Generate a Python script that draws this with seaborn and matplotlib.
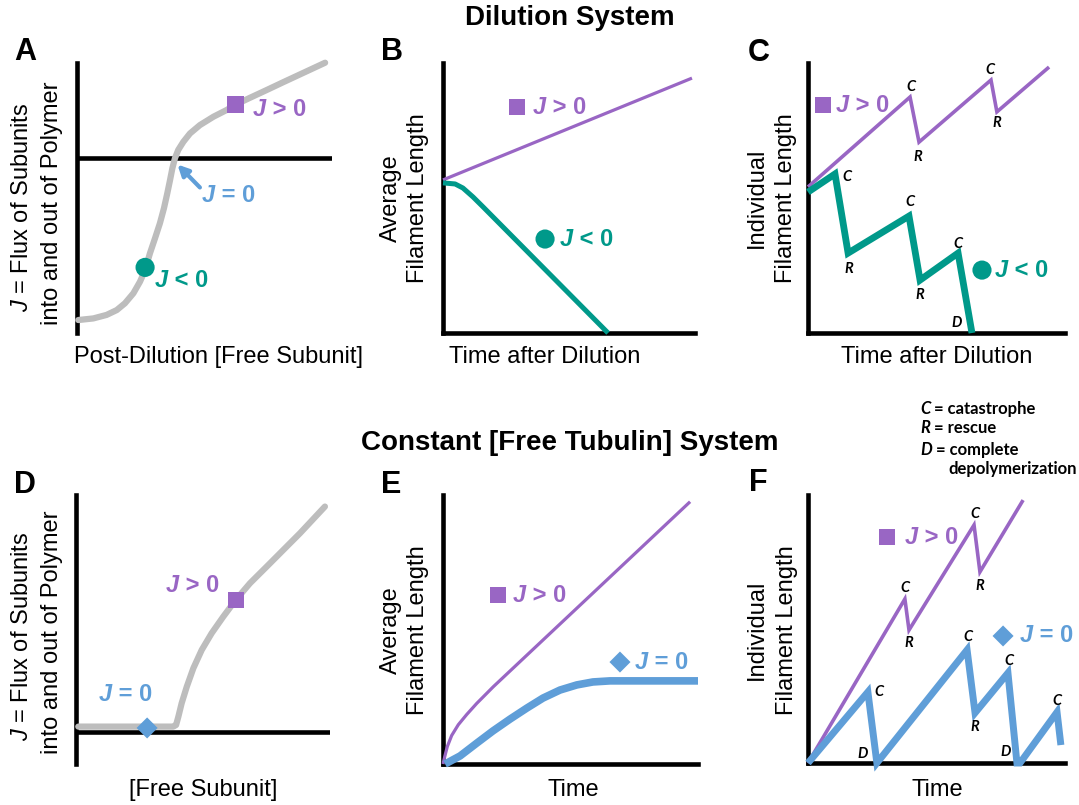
import matplotlib
matplotlib.use("Agg")
import matplotlib.pyplot as plt
from matplotlib.text import Annotation
import seaborn as sns

# ---------------------------------------------------------------
# Schematic curves (arbitrary units: x 0-100 along each time /
# concentration axis, y 0-100 along each length / flux axis)
# ---------------------------------------------------------------

# A: flux J vs post-dilution free subunit (sigmoid through J = 0)
a_conc = [0.5, 6.4, 11.6, 15.6, 18.8, 22.1, 24.7, 26.7, 28.6, 30.6, 32.5,
          34.1, 35.4, 36.5, 37.4, 38.4, 39.7, 41.7, 44.3, 48.2, 53.5, 58.7,
          62.2, 67.8, 74.4, 80.9, 87.5, 97.3]
a_flux = [-60.0, -59.4, -58.1, -56.3, -53.8, -50.1, -45.8, -41.5, -35.3,
          -29.7, -24.2, -18.6, -13.1, -8.1, -3.8, -0.1, 3.0, 6.0, 9.1, 12.2,
          15.3, 17.8, 19.8, 22.3, 25.2, 28.1, 31.0, 35.3]
a_pos_pt = (62.2, 19.8)      # J > 0 state
a_neg_pt = (26.7, -40.5)     # J < 0 state

# B: average filament length after dilution
b_grow_t = [0, 98.8]
b_grow_len = [56.7, 94.4]
b_shrink_t = [0, 4.8, 7.9, 11.9, 15.9, 65.5]
b_shrink_len = [55.6, 55.2, 53.7, 50.4, 46.7, 0]

# C: individual filament length after dilution
c_grow_t = [0, 39.7, 43.2, 71.2, 73.5, 93.8]
c_grow_len = [54.1, 87.4, 70.7, 93.7, 81.9, 98.5]
c_shrink_t = [0, 10.5, 15.6, 39.3, 43.6, 58.4, 63.8]
c_shrink_len = [52.2, 58.9, 29.6, 43.3, 19.6, 29.6, 0]
c_grow_events = ["C", "R", "C", "R"]
c_grow_ev_t = [40.1, 42.8, 70.8, 73.5]
c_grow_ev_len = [91.1, 65.2, 97.4, 77.8]
c_shrink_events = ["C", "R", "C", "R", "C", "D"]
c_shrink_ev_t = [15.2, 16.0, 39.7, 43.6, 58.4, 58.0]
c_shrink_ev_len = [57.8, 23.7, 48.5, 14.1, 33.0, 3.7]

# D: flux J vs constant free subunit concentration
d_conc = [0.9, 38.3, 39.4, 40.3, 41.6, 43.6, 46.2, 49.5, 53.4, 58.0, 62.9,
          68.5, 75.1, 88.2, 98.0]
d_flux = [2.0, 2.0, 2.6, 5.7, 10.7, 16.8, 23.7, 30.5, 36.7, 42.9, 49.1,
          55.3, 61.5, 73.9, 83.8]
d_pos_pt = (62.9, 49.1)
d_zero_pt = (28.0, 1.5)

# E: average filament length at constant free tubulin
e_grow_t = [0, 0.8, 1.7, 3.4, 6.0, 9.3, 13.2, 19.7, 96.9]
e_grow_len = [0, 3.2, 6.5, 10.6, 14.6, 18.4, 22.5, 28.7, 97.5]
e_steady_t = [0.8, 6.7, 13.3, 19.6, 26.3, 32.9, 39.2, 45.9, 52.5, 58.8, 65.5, 100]
e_steady_len = [0, 3.0, 7.8, 12.3, 16.7, 20.8, 24.5, 27.5, 29.4, 30.5, 30.9, 30.9]

# F: individual filament length at constant free tubulin
f_grow_t = [0, 37.7, 39.3, 64.6, 66.9, 83.7]
f_grow_len = [0, 61.2, 49.6, 88.8, 71.3, 98.1]
f_steady_t = [0, 23.3, 26.8, 61.9, 65.0, 77.8, 81.3, 82.5, 96.9, 98.4]
f_steady_len = [0, 26.5, 0, 42.2, 18.7, 33.6, 0, 0, 19.0, 6.7]
f_grow_events = ["C", "R", "C", "R"]
f_grow_ev_t = [37.7, 39.3, 65.0, 66.9]
f_grow_ev_len = [65.3, 44.8, 92.9, 66.0]
f_steady_events = ["C", "D", "C", "R", "C", "D", "C"]
f_steady_ev_t = [27.6, 21.4, 62.3, 65.0, 78.2, 77.0, 96.9]
f_steady_ev_len = [26.5, 3.4, 47.0, 13.4, 38.1, 4.1, 23.1]

# Marker anchors for the J states in B, C, E, F
b_pos_pt, b_neg_pt = (29.4, 83.7), (40.5, 34.8)
c_pos_pt, c_neg_pt = (5.8, 84.4), (67.7, 23.3)
e_pos_pt, e_zero_pt = (21.6, 62.8), (69.4, 37.9)
f_pos_pt, f_zero_pt = (30.7, 84.3), (75.9, 47.4)

legend_keys = ["C", "R", "D"]
legend_terms = ["= catastrophe", "= rescue", "= complete"]
legend_extra = "depolymerization"

# ---------------------------------------------------------------
PURPLE = "#9966c4"
TEAL = "#00998a"
BLUE = "#5f9ed8"
GREY = "#bdbdbd"
AXLW = 3.3
LABEL_FS = 17

sns.set_theme(style="white")
plt.rcParams["font.family"] = ["Liberation Sans", "DejaVu Sans"]
plt.rcParams["text.color"] = "black"
plt.rcParams["mathtext.fontset"] = "custom"
plt.rcParams["mathtext.rm"] = "Liberation Sans"
plt.rcParams["mathtext.it"] = "Liberation Sans:italic"

W, H = 1079, 805
fig = plt.figure(figsize=(W / 100, H / 100), dpi=100)
fig.patch.set_facecolor("white")


def add_panel(box, ylim=(0, 100), bottom=True):
    l, t, r, b = box
    ax = fig.add_axes([l / W, 1 - b / H, (r - l) / W, (b - t) / H])
    ax.set_xlim(0, 100)
    ax.set_ylim(*ylim)
    ax.set_xticks([])
    ax.set_yticks([])
    ax.patch.set_alpha(0)
    for side in ("top", "right"):
        ax.spines[side].set_visible(False)
    ax.spines["left"].set_color("black")
    ax.spines["left"].set_linewidth(AXLW)
    if bottom:
        ax.spines["bottom"].set_color("black")
        ax.spines["bottom"].set_linewidth(AXLW)
    else:
        ax.spines["bottom"].set_visible(False)
    return ax


def curve(ax, x, y, color, lw, join="round", cap="butt"):
    sns.lineplot(x=x, y=y, ax=ax, color=color, linewidth=lw, sort=False,
                 estimator=None, clip_on=False, solid_capstyle=cap,
                 solid_joinstyle=join, zorder=3)
    ax.set_xlabel("")
    ax.set_ylabel("")


def marker(ax, pt, shape, color, size):
    sns.scatterplot(x=[pt[0]], y=[pt[1]], ax=ax, marker=shape, s=size,
                    color=color, edgecolor="none", linewidth=0,
                    clip_on=False, zorder=6)
    ax.set_xlabel("")
    ax.set_ylabel("")


def jlabel(ax, x, y, sign, color, fs=17):
    j = ax.text(x, y, "J", color=color, fontsize=fs, fontweight="bold",
                fontstyle="italic", ha="left", va="center", zorder=7)
    ax.annotate(" %s 0" % sign, xy=(1, 0), xycoords=j, color=color,
                fontsize=fs, fontweight="bold", ha="left", va="bottom",
                zorder=7)


def events(ax, names, xs, ys):
    for n, x, y in zip(names, xs, ys):
        ax.text(x, y, n, fontsize=10.5, fontweight="bold", fontstyle="italic",
                family="Lato", ha="center", va="center", zorder=7)


def ftext(px, py, s, **kw):
    return fig.text(px / W, 1 - py / H, s, **kw)


MS_SQ, MS_CI, MS_DI = 140, 190, 115

# ---------------- Dilution system ----------------
axA = add_panel((77, 63, 332, 333), ylim=(-64.8, 35.2), bottom=False)
axA.axhline(0, color="black", lw=AXLW, zorder=2)
curve(axA, a_conc, a_flux, GREY, 4.5, cap="round")
marker(axA, a_pos_pt, "s", PURPLE, MS_SQ)
marker(axA, a_neg_pt, "o", TEAL, MS_CI)
jlabel(axA, 69.0, 17.8, ">", PURPLE)
jlabel(axA, 30.6, -45.2, "<", TEAL)
jlabel(axA, 49.0, -13.7, "=", BLUE)
axA.annotate("", xy=(39.4, -2.4), xytext=(48.2, -10.9),
             arrowprops=dict(arrowstyle="-|>", color=BLUE, lw=3,
                             mutation_scale=16, shrinkA=0, shrinkB=0))

axB = add_panel((443, 63, 695, 333))
curve(axB, b_grow_t, b_grow_len, PURPLE, 2.3)
curve(axB, b_shrink_t, b_shrink_len, TEAL, 3.6)
marker(axB, b_pos_pt, "s", PURPLE, MS_SQ)
marker(axB, b_neg_pt, "o", TEAL, MS_CI)
jlabel(axB, b_pos_pt[0] + 6.3, b_pos_pt[1], ">", PURPLE)
jlabel(axB, b_neg_pt[0] + 5.9, b_neg_pt[1], "<", TEAL)

axC = add_panel((808, 63, 1065, 333))
curve(axC, c_grow_t, c_grow_len, PURPLE, 2.6, join="miter")
curve(axC, c_shrink_t, c_shrink_len, TEAL, 4.9, join="miter")
marker(axC, c_pos_pt, "s", PURPLE, MS_SQ)
marker(axC, c_neg_pt, "o", TEAL, MS_CI)
jlabel(axC, c_pos_pt[0] + 5.0, c_pos_pt[1], ">", PURPLE)
jlabel(axC, c_neg_pt[0] + 5.0, c_neg_pt[1], "<", TEAL)
events(axC, c_grow_events, c_grow_ev_t, c_grow_ev_len)
events(axC, c_shrink_events, c_shrink_ev_t, c_shrink_ev_len)

# ---------------- Constant free tubulin system ----------------
axD = add_panel((76, 495, 330, 764), ylim=(-11.9, 88.1), bottom=False)
axD.axhline(0, color="black", lw=AXLW, zorder=2)
curve(axD, d_conc, d_flux, GREY, 4.5, cap="round")
marker(axD, d_pos_pt, "s", PURPLE, MS_SQ)
marker(axD, d_zero_pt, "D", BLUE, MS_DI)
jlabel(axD, 35.5, 54.6, ">", PURPLE)
jlabel(axD, 9.0, 13.8, "=", BLUE)

axE = add_panel((443, 495, 698, 764))
curve(axE, e_grow_t, e_grow_len, PURPLE, 2.3)
curve(axE, e_steady_t, e_steady_len, BLUE, 5.5)
marker(axE, e_pos_pt, "s", PURPLE, MS_SQ)
marker(axE, e_zero_pt, "D", BLUE, MS_DI)
jlabel(axE, e_pos_pt[0] + 5.9, e_pos_pt[1], ">", PURPLE)
jlabel(axE, e_zero_pt[0] + 5.9, e_zero_pt[1], "=", BLUE)

axF = add_panel((808, 495, 1065, 763))
curve(axF, f_grow_t, f_grow_len, PURPLE, 2.6, join="miter")
curve(axF, f_steady_t, f_steady_len, BLUE, 5.0, join="miter")
marker(axF, f_pos_pt, "s", PURPLE, MS_SQ)
marker(axF, f_zero_pt, "D", BLUE, MS_DI)
jlabel(axF, f_pos_pt[0] + 7.0, f_pos_pt[1], ">", PURPLE)
jlabel(axF, f_zero_pt[0] + 6.6, f_zero_pt[1], "=", BLUE)
events(axF, f_grow_events, f_grow_ev_t, f_grow_ev_len)
events(axF, f_steady_events, f_steady_ev_t, f_steady_ev_len)

# ---------------- Titles, panel letters, axis labels ----------------
ftext(570, 18, "Dilution System", fontsize=20, fontweight="bold",
      ha="center", va="center")
ftext(570, 443, "Constant [Free Tubulin] System", fontsize=20,
      fontweight="bold", ha="center", va="center")

for letter, (px, py) in zip("ABCDEF", [(25, 52), (392, 52), (759, 53),
                                       (25, 485), (391, 485), (758, 483)]):
    ftext(px, py, letter, fontsize=22, fontweight="bold",
          ha="center", va="center")

lab = dict(fontsize=LABEL_FS, ha="center", va="center")
rot = dict(fontsize=LABEL_FS, ha="center", va="center", rotation=90)

ftext(218, 357, "Post-Dilution [Free Subunit]", **lab)
ftext(545, 357, "Time after Dilution", **lab)
ftext(937, 357, "Time after Dilution", **lab)
ftext(203, 790, "[Free Subunit]", **lab)
ftext(573, 790, "Time", **lab)
ftext(937, 790, "Time", **lab)

for mid in (207, 636):
    ftext(22, mid, r"$\it{J}$ = Flux of Subunits", **rot)
    ftext(52, mid - 4, "into and out of Polymer", **rot)

ftext(391, 198, "Average", **rot)
ftext(418, 198, "Filament Length", **rot)
ftext(391, 630, "Average", **rot)
ftext(418, 630, "Filament Length", **rot)
ftext(757, 198, "Individual", **rot)
ftext(786, 198, "Filament Length", **rot)
ftext(757, 630, "Individual", **rot)
ftext(787, 630, "Filament Length", **rot)

# Event key
key_style = dict(fontsize=12, family="Lato", fontweight="bold")
for key, term, py in zip(legend_keys, legend_terms, [409, 428, 450]):
    k = ftext(920, py, key, fontstyle="italic", ha="left", va="center",
              **key_style)
    fig.add_artist(Annotation(" " + term, xy=(1, 0), xycoords=k,
                              ha="left", va="bottom", **key_style))
ftext(948, 469, legend_extra, ha="left", va="center", **key_style)

fig.savefig("out.png", dpi=100, facecolor="white")
